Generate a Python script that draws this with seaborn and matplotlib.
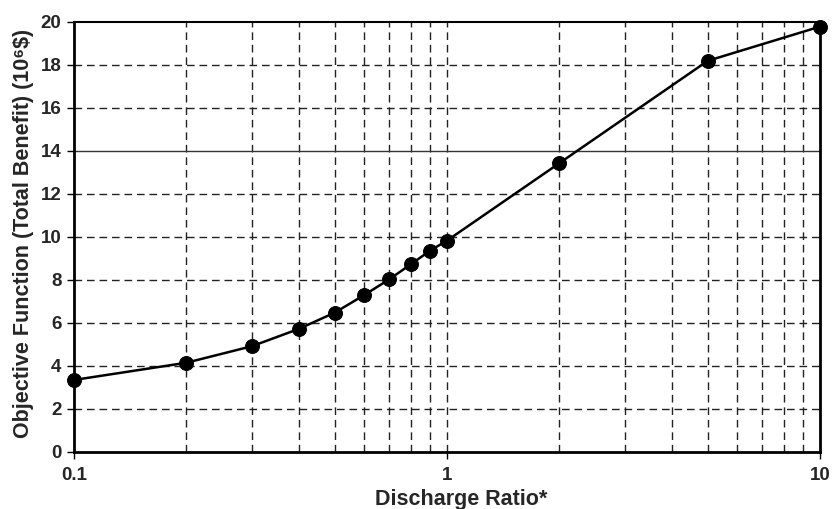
import matplotlib
matplotlib.use("Agg")
import matplotlib.pyplot as plt
import matplotlib.ticker as mticker
import seaborn as sns
import pandas as pd

discharge_ratio = [0.1, 0.2, 0.3, 0.4, 0.5, 0.6, 0.7, 0.8, 0.9, 1.0, 2.0, 5.0, 10.0]
total_benefit = [3.35, 4.15, 4.92, 5.72, 6.48, 7.30, 8.03, 8.73, 9.36, 9.83, 13.43, 18.19, 19.78]

x_major_ticks = [0.1, 1, 10]
x_major_labels = ["0.1", "1", "10"]
y_ticks = [0, 2, 4, 6, 8, 10, 12, 14, 16, 18, 20]

df = pd.DataFrame({"ratio": discharge_ratio, "benefit": total_benefit})

sns.set_style("white")
plt.rcParams["font.family"] = ["Liberation Sans", "DejaVu Sans"]

fig = plt.figure(figsize=(8.32, 5.09), dpi=100)
ax = fig.add_axes([0.089, 0.112, 0.8966, 0.845])

ax.set_xscale("log")
ax.set_xlim(0.1, 10)
ax.set_ylim(0, 20)

dash = (0, (5.5, 3.5))
minor_vals = [m * d for d in (0.1, 1) for m in range(2, 10)]
for v in minor_vals + [1]:
    ax.axvline(v, color="#222222", lw=1.0, ls=dash, zorder=1)
for v in y_ticks[1:-1]:
    if v == 14:
        ax.axhline(v, color="#333333", lw=1.0, ls="-", zorder=1)
    else:
        ax.axhline(v, color="#222222", lw=1.0, ls=dash, zorder=1)

sns.lineplot(data=df, x="ratio", y="benefit", ax=ax, color="black", lw=1.8,
             marker="o", markersize=10, markeredgecolor="black",
             markerfacecolor="black", zorder=5, clip_on=False)

ax.xaxis.set_major_locator(mticker.FixedLocator(x_major_ticks))
ax.xaxis.set_major_formatter(mticker.FixedFormatter(x_major_labels))
ax.xaxis.set_minor_locator(mticker.FixedLocator(minor_vals))
ax.xaxis.set_minor_formatter(mticker.NullFormatter())
ax.set_yticks(y_ticks)

ax.tick_params(axis="both", which="major", direction="out", length=5, width=1,
               labelsize=13.5, color="black")
ax.tick_params(axis="x", which="major", pad=6)
ax.tick_params(axis="y", which="major", pad=4)
ax.tick_params(axis="x", which="minor", direction="inout", length=5, width=1, color="black")
ax.tick_params(left=True, bottom=True)
for lbl in ax.get_xticklabels() + ax.get_yticklabels():
    lbl.set_fontweight("bold")

for side in ["left", "bottom", "right"]:
    ax.spines[side].set_linewidth(2)
    ax.spines[side].set_color("black")
ax.spines["top"].set_linewidth(1.5)
ax.spines["top"].set_color("black")

ax.set_xlabel("Discharge Ratio*", fontsize=15.5, fontweight="bold", labelpad=4)
ax.xaxis.set_label_coords(0.519, -0.085)
ax.set_ylabel("Objective Function (Total Benefit) (10\u2076$)", fontsize=15.5,
              fontweight="bold", labelpad=6)
ax.yaxis.set_label_coords(-0.054, 0.507)

fig.savefig("out.png", dpi=100)
